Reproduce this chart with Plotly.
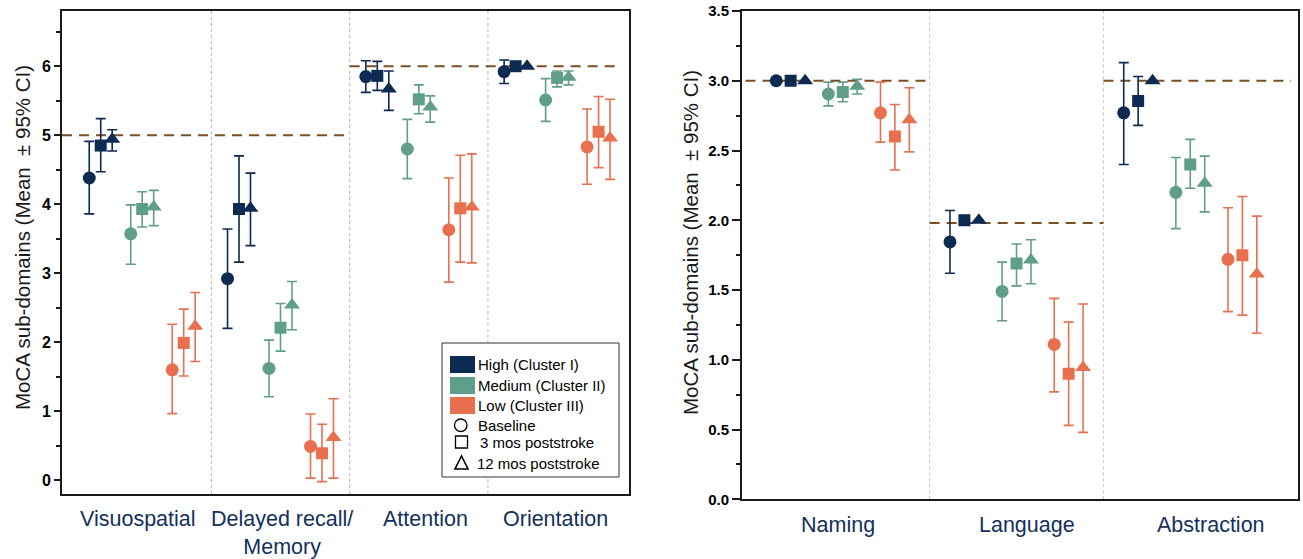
import plotly.graph_objects as go

W, H = 1303, 559

# ---------------- data ----------------
left_categories = ["Visuospatial", "Delayed recall/<br>Memory", "Attention", "Orientation"]
right_categories = ["Naming", "Language", "Abstraction"]
groups = ["High (Cluster I)", "Medium (Cluster II)", "Low (Cluster III)"]
times = ["Baseline", "3 mos poststroke", "12 mos poststroke"]

# rows = categories, columns = times (Baseline, 3 mos, 12 mos)
left_high_mean = [[4.38, 4.85, 4.94], [2.92, 3.93, 3.94], [5.85, 5.86, 5.67], [5.92, 6.00, 6.00]]
left_high_lo = [[3.86, 4.47, 4.77], [2.20, 3.16, 3.40], [5.62, 5.65, 5.36], [5.75, 6.00, 6.00]]
left_high_hi = [[4.91, 5.24, 5.08], [3.64, 4.70, 4.45], [6.08, 6.07, 5.93], [6.09, 6.00, 6.00]]
left_med_mean = [[3.57, 3.93, 3.96], [1.62, 2.21, 2.54], [4.80, 5.52, 5.41], [5.51, 5.83, 5.84]]
left_med_lo = [[3.13, 3.67, 3.69], [1.21, 1.87, 2.18], [4.37, 5.31, 5.19], [5.20, 5.70, 5.73]]
left_med_hi = [[3.99, 4.18, 4.20], [2.03, 2.56, 2.88], [5.23, 5.73, 5.57], [5.82, 5.93, 5.93]]
left_low_mean = [[1.60, 1.99, 2.23], [0.49, 0.39, 0.62], [3.63, 3.94, 3.96], [4.83, 5.05, 4.96]]
left_low_lo = [[0.965, 1.51, 1.72], [0.03, -0.02, 0.03], [2.87, 3.16, 3.15], [4.29, 4.53, 4.36]]
left_low_hi = [[2.26, 2.48, 2.72], [0.96, 0.81, 1.18], [4.38, 4.71, 4.73], [5.38, 5.56, 5.52]]

right_high_mean = [[3.00, 3.00, 3.00], [1.845, 2.00, 2.00], [2.77, 2.855, 3.00]]
right_high_lo = [[3.00, 3.00, 3.00], [1.62, 2.00, 2.00], [2.40, 2.68, 3.00]]
right_high_hi = [[3.00, 3.00, 3.00], [2.07, 2.00, 2.00], [3.13, 3.03, 3.00]]
right_med_mean = [[2.905, 2.92, 2.96], [1.49, 1.69, 1.715], [2.20, 2.40, 2.265]]
right_med_lo = [[2.82, 2.85, 2.905], [1.28, 1.53, 1.545], [1.94, 2.23, 2.06]]
right_med_hi = [[2.99, 2.99, 3.01], [1.70, 1.83, 1.86], [2.45, 2.58, 2.46]]
right_low_mean = [[2.77, 2.60, 2.72], [1.11, 0.90, 0.945], [1.72, 1.75, 1.615]]
right_low_lo = [[2.56, 2.36, 2.49], [0.77, 0.53, 0.48], [1.345, 1.32, 1.19]]
right_low_hi = [[2.99, 2.83, 2.95], [1.44, 1.27, 1.40], [2.09, 2.17, 2.03]]

left_norms = [5, 5, 6, 6]
right_norms = [3.0, 1.98, 3.0]

# ---------------- style ----------------
COLORS = ["#0c2a52", "#5f9e8a", "#e8704f"]
SYMBOLS = ["circle", "square", "triangle-up"]
SIZES = [13, 12, 14]
GROUP_OFF = [-0.30, 0.0, 0.30]
TIME_OFF = [-0.083, 0.0, 0.083]
NORM_COLOR = "#7b4f23"
FONT = "Arial, Liberation Sans, sans-serif"
LABEL_COLOR = "#14305c"

fig = go.Figure()

def add_panel(means, los, his, xa, ya):
    for g in range(3):
        for t in range(3):
            xs, ys, up, dn = [], [], [], []
            for c in range(len(means[g])):
                m = means[g][c][t]
                xs.append(c + GROUP_OFF[g] + TIME_OFF[t])
                ys.append(m)
                up.append(his[g][c][t] - m)
                dn.append(m - los[g][c][t])
            fig.add_trace(go.Scatter(
                x=xs, y=ys, mode="markers", xaxis=xa, yaxis=ya,
                marker=dict(color=COLORS[g], symbol=SYMBOLS[t], size=SIZES[t], line=dict(width=0)),
                error_y=dict(type="data", symmetric=False, array=up, arrayminus=dn,
                             color=COLORS[g], thickness=1.6, width=5),
                showlegend=False, hoverinfo="skip"))

def add_norms(norms, xa, ya, x_left, x_right):
    n = len(norms)
    for c, v in enumerate(norms):
        if c > 0 and norms[c - 1] == v:
            continue
        end = c
        while end + 1 < n and norms[end + 1] == v:
            end += 1
        x0 = x_left if c == 0 else c - 0.5
        x1 = x_right if end == n - 1 else end + 0.5
        fig.add_trace(go.Scatter(
            x=[x0, x1], y=[v, v], mode="lines", xaxis=xa, yaxis=ya,
            line=dict(color=NORM_COLOR, width=2, dash="10px,7px"),
            showlegend=False, hoverinfo="skip"))

add_norms(left_norms, "x", "y", -0.58, 3.45)
add_norms(right_norms, "x2", "y2", -0.56, 2.58)

add_panel([left_high_mean, left_med_mean, left_low_mean],
          [left_high_lo, left_med_lo, left_low_lo],
          [left_high_hi, left_med_hi, left_low_hi], "x", "y")
add_panel([right_high_mean, right_med_mean, right_low_mean],
          [right_high_lo, right_med_lo, right_low_lo],
          [right_high_hi, right_med_hi, right_low_hi], "x2", "y2")

# dividers
shapes = []
for i in range(len(left_categories) - 1):
    shapes.append(dict(type="line", xref="x", yref="y domain", x0=i + 0.5, x1=i + 0.5, y0=0, y1=1,
                       line=dict(color="#b5b5b5", width=1, dash="dot"), layer="below"))
for i in range(len(right_categories) - 1):
    shapes.append(dict(type="line", xref="x2", yref="y2 domain", x0=i + 0.5, x1=i + 0.5, y0=0, y1=1,
                       line=dict(color="#c0c0c0", width=1, dash="dot"), layer="below"))

def px(x):
    return x / W

def py(y):
    return 1 - y / H

annotations = []

# category labels
left_label_x = [-0.03, 1.01, 2.05, 2.99]
for lab, xv in zip(left_categories, left_label_x):
    annotations.append(dict(x=xv, y=py(505), xref="x", yref="paper", text=lab, showarrow=False,
                            xanchor="center", yanchor="top",
                            font=dict(family=FONT, size=21.5, color=LABEL_COLOR)))
right_label_x = [-0.03, 1.06, 2.12]
for lab, xv in zip(right_categories, right_label_x):
    annotations.append(dict(x=xv, y=py(511), xref="x2", yref="paper", text=lab, showarrow=False,
                            xanchor="center", yanchor="top",
                            font=dict(family=FONT, size=21.5, color=LABEL_COLOR)))

ytitle = "MoCA sub-domains (Mean  \u00b1 95% CI)"
annotations.append(dict(x=px(22), y=py(238), xref="paper", yref="paper", text=ytitle, textangle=-90,
                        xanchor="center", yanchor="middle",
                        showarrow=False, font=dict(family=FONT, size=20.5, color="#1a1a1a")))
annotations.append(dict(x=px(690), y=py(243), xref="paper", yref="paper", text=ytitle, textangle=-90,
                        xanchor="center", yanchor="middle",
                        showarrow=False, font=dict(family=FONT, size=20.5, color="#1a1a1a")))

# manual legend
shapes.append(dict(type="rect", xref="paper", yref="paper", x0=px(442), x1=px(619), y0=py(477), y1=py(343),
                   line=dict(color="#333333", width=1), fillcolor="white", layer="above"))
rect_rows = [(356, 373), (377, 394), (397, 414)]
for g, (y0, y1) in enumerate(rect_rows):
    shapes.append(dict(type="rect", xref="paper", yref="paper", x0=px(450), x1=px(475), y0=py(y1), y1=py(y0),
                       line=dict(width=0), fillcolor=COLORS[g], layer="above"))
    annotations.append(dict(x=px(476), y=py((y0 + y1) / 2), xref="paper", yref="paper", text=groups[g],
                            showarrow=False, xanchor="left", yanchor="middle",
                            font=dict(family=FONT, size=15, color="black")))
# symbol keys
shapes.append(dict(type="circle", xref="paper", yref="paper", x0=px(454.5), x1=px(467), y0=py(431.5), y1=py(419),
                   line=dict(color="black", width=1.3), layer="above"))
shapes.append(dict(type="rect", xref="paper", yref="paper", x0=px(455.5), x1=px(467.5), y0=py(448), y1=py(436),
                   line=dict(color="black", width=1.3), layer="above"))
shapes.append(dict(type="path", xref="paper", yref="paper",
                   path=f"M {px(455)},{py(469)} L {px(468)},{py(469)} L {px(461.5)},{py(456)} Z",
                   line=dict(color="black", width=1.6), layer="above"))
for t, (xs, yc) in enumerate([(476, 425.5), (478, 442), (475, 463)]):
    annotations.append(dict(x=px(xs), y=py(yc), xref="paper", yref="paper", text=times[t],
                            showarrow=False, xanchor="left", yanchor="middle",
                            font=dict(family=FONT, size=15, color="black")))

axis_common = dict(showgrid=False, zeroline=False, showline=True, mirror=True,
                   linecolor="#1a1a1a", linewidth=2, automargin=False)

fig.update_layout(
    width=W, height=H, margin=dict(l=0, r=0, t=0, b=0, autoexpand=False),
    paper_bgcolor="white", plot_bgcolor="white", showlegend=False,
    font=dict(family=FONT),
    xaxis=dict(domain=[px(62), px(629)], range=[-0.58, 3.52], showticklabels=False, ticks="",
               **axis_common),
    yaxis=dict(domain=[py(494), py(11)], range=[-0.2, 6.8], tickvals=[0, 1, 2, 3, 4, 5, 6],
               ticks="outside", ticklen=6, tickwidth=1.5, tickcolor="#1a1a1a",
               tickfont=dict(family=FONT, size=16, color="black", weight="bold"),
               minor=dict(ticks="outside", ticklen=4, tickwidth=1.5, tickcolor="#1a1a1a",
                          tickvals=[0.5, 1.5, 2.5, 3.5, 4.5, 5.5, 6.5]),
               **axis_common),
    xaxis2=dict(domain=[px(742), px(1298)], range=[-0.58, 2.62], showticklabels=False, ticks="",
                anchor="y2", **axis_common),
    yaxis2=dict(domain=[py(499.3), py(11)], range=[0, 3.5], dtick=0.5, tickformat=".1f",
                ticks="outside", ticklen=8, tickwidth=1.5, tickcolor="#1a1a1a", anchor="x2",
                tickfont=dict(family=FONT, size=15, color="black", weight="bold"),
                minor=dict(ticks="outside", ticklen=4, tickwidth=1.5, tickcolor="#1a1a1a", dtick=0.25),
                **axis_common),
    shapes=shapes, annotations=annotations,
)

fig.write_html("out.html")
